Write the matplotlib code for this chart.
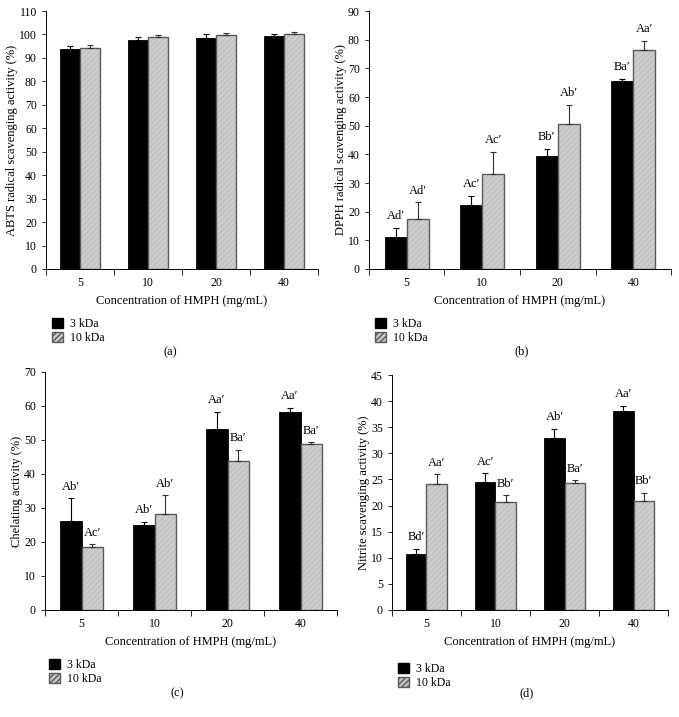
import matplotlib
matplotlib.use("Agg")
import matplotlib.pyplot as plt
import matplotlib.patches as mpatches
import numpy as np

plt.rcParams['font.family'] = ['Liberation Serif', 'DejaVu Serif']
plt.rcParams['font.size'] = 8.5

# Data
concentrations = ["5", "10", "20", "40"]

abts_3k = [94.0, 97.8, 98.6, 99.3]
abts_3k_err = [1.2, 1.3, 1.5, 1.0]
abts_10k = [94.3, 99.0, 99.7, 100.0]
abts_10k_err = [1.0, 0.9, 1.0, 0.9]

dpph_3k = [11.1, 22.4, 39.3, 65.5]
dpph_3k_err = [3.2, 3.2, 2.6, 0.8]
dpph_10k = [17.6, 33.1, 50.7, 76.3]
dpph_10k_err = [5.6, 7.7, 6.5, 3.3]
dpph_3k_lab = ["Ad\u2032", "Ac\u2032", "Bb\u2032", "Ba\u2032"]
dpph_10k_lab = ["Ad\u2032", "Ac\u2032", "Ab\u2032", "Aa\u2032"]

chel_3k = [26.3, 24.9, 53.3, 58.2]
chel_3k_err = [6.6, 1.1, 5.0, 1.3]
chel_10k = [18.6, 28.1, 43.8, 48.7]
chel_10k_err = [0.7, 5.6, 3.4, 0.6]
chel_3k_lab = ["Ab\u2032", "Ab\u2032", "Aa\u2032", "Aa\u2032"]
chel_10k_lab = ["Ac\u2032", "Ab\u2032", "Ba\u2032", "Ba\u2032"]

nitr_3k = [10.7, 24.6, 32.9, 38.2]
nitr_3k_err = [1.0, 1.6, 1.8, 0.9]
nitr_10k = [24.1, 20.7, 24.4, 20.9]
nitr_10k_err = [1.9, 1.3, 0.4, 1.6]
nitr_3k_lab = ["Bd\u2032", "Ac\u2032", "Ab\u2032", "Aa\u2032"]
nitr_10k_lab = ["Aa\u2032", "Bb\u2032", "Ba\u2032", "Bb\u2032"]

GRAY = "#c4c4c4"
HATCH_C = "#d2d2d2"
EDGE = "#5a5a5a"


def draw_panel(fig, rect, v3, e3, v10, e10, ymax, ystep, ylabel, tag,
               tag_xy, leg_xy, lab3=None, lab10=None):
    ax = fig.add_axes(rect)
    x = np.arange(len(concentrations))
    w = 0.29
    ax.bar(x - w / 2, v3, w, color="black", edgecolor="black", linewidth=0.6, zorder=2)
    ax.bar(x + w / 2, v10, w, color=GRAY, edgecolor=HATCH_C, hatch="//////",
           linewidth=0, zorder=2)
    ax.bar(x + w / 2, v10, w, fill=False, edgecolor=EDGE, linewidth=1.0, zorder=3)
    ax.errorbar(x - w / 2, v3, yerr=[np.zeros(4), e3], fmt="none", ecolor="black",
                elinewidth=0.8, capsize=2.5, capthick=0.8, zorder=4)
    ax.errorbar(x + w / 2, v10, yerr=[np.zeros(4), e10], fmt="none", ecolor="#333333",
                elinewidth=0.8, capsize=2.5, capthick=0.8, zorder=4)

    if lab3 is not None:
        for xi, v, e, t in zip(x - w / 2, v3, e3, lab3):
            ax.annotate(t, (xi, v + e), xytext=(0, 4), textcoords="offset points",
                        ha="center", va="bottom", fontsize=9)
        for xi, v, e, t in zip(x + w / 2, v10, e10, lab10):
            ax.annotate(t, (xi, v + e), xytext=(0, 4), textcoords="offset points",
                        ha="center", va="bottom", fontsize=9)

    ax.set_xlim(-0.5, 3.5)
    ax.set_ylim(0, ymax)
    ax.set_yticks(np.arange(0, ymax + 0.1, ystep))
    ax.set_xticks(x)
    ax.set_xticklabels(concentrations)
    ax.set_xticks(np.arange(-0.5, 4, 1), minor=True)
    ax.tick_params(axis="x", which="major", length=0, pad=6, labelsize=8.5)
    ax.tick_params(axis="x", which="minor", length=4, width=0.6, direction="out")
    ax.tick_params(axis="y", length=3, width=0.6, direction="out", labelsize=8.5)
    for s in ["top", "right"]:
        ax.spines[s].set_visible(False)
    for s in ["left", "bottom"]:
        ax.spines[s].set_linewidth(0.7)
    ax.set_xlabel("Concentration of HMPH (mg/mL)", fontsize=9, labelpad=4)
    ax.set_ylabel(ylabel, fontsize=9, labelpad=1)

    handles = [mpatches.Patch(facecolor="black", edgecolor="black", label="3 kDa"),
               mpatches.Patch(facecolor=GRAY, edgecolor=EDGE, hatch="//////",
                              label="10 kDa")]
    fig.legend(handles=handles, loc="upper left",
               bbox_to_anchor=(leg_xy[0] / 679, 1 - leg_xy[1] / 717),
               frameon=False, handlelength=0.9, handleheight=0.9,
               handletextpad=0.6, labelspacing=0.2, borderpad=0, fontsize=8.5)
    fig.text(tag_xy[0] / 679, 1 - tag_xy[1] / 717, tag, ha="center", va="center",
             fontsize=9)
    return ax


fig = plt.figure(figsize=(6.79, 7.17), dpi=100)

draw_panel(fig, [46 / 679, 1 - 269 / 717, 272 / 679, 258 / 717],
           abts_3k, abts_3k_err, abts_10k, abts_10k_err, 110, 10,
           "ABTS radical scavenging activity (%)", "(a)", (170, 352), (46, 312))
draw_panel(fig, [369 / 679, 1 - 269 / 717, 302 / 679, 258 / 717],
           dpph_3k, dpph_3k_err, dpph_10k, dpph_10k_err, 90, 10,
           "DPPH radical scavenging activity (%)", "(b)", (522, 351), (369, 312),
           dpph_3k_lab, dpph_10k_lab)
draw_panel(fig, [45 / 679, 1 - 610 / 717, 292 / 679, 238 / 717],
           chel_3k, chel_3k_err, chel_10k, chel_10k_err, 70, 10,
           "Chelating activity (%)", "(c)", (177, 693), (43, 653),
           chel_3k_lab, chel_10k_lab)
draw_panel(fig, [392 / 679, 1 - 610 / 717, 276 / 679, 235 / 717],
           nitr_3k, nitr_3k_err, nitr_10k, nitr_10k_err, 45, 5,
           "Nitrite scavenging activity (%)", "(d)", (527, 693), (392, 657),
           nitr_3k_lab, nitr_10k_lab)

fig.savefig("out.png", dpi=100, facecolor="white")
